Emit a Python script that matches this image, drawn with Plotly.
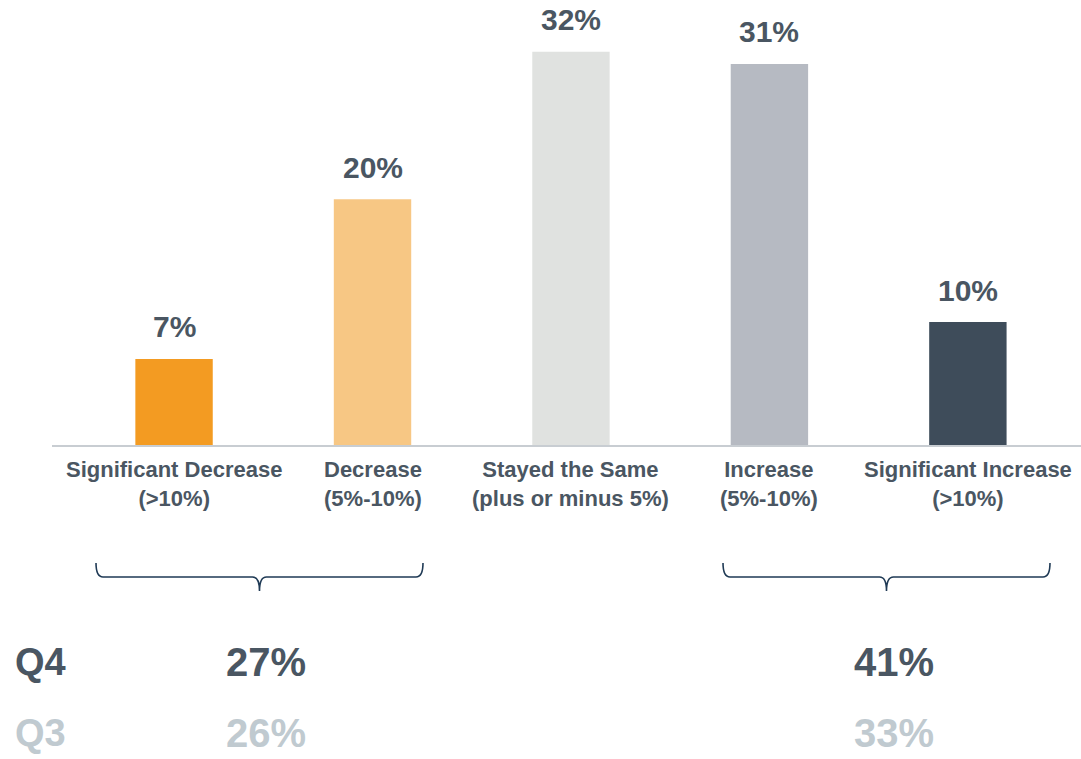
import plotly.graph_objects as go

# Survey responses: change in volume, share of respondents (%)
categories = [
    "Significant Decrease<br>(>10%)",
    "Decrease<br>(5%-10%)",
    "Stayed the Same<br>(plus or minus 5%)",
    "Increase<br>(5%-10%)",
    "Significant Increase<br>(>10%)",
]
values = [7, 20, 32, 31, 10]
bar_colors = ["#F39B22", "#F7C784", "#E0E2E0", "#B6BAC2", "#3E4C5A"]

# Combined decrease / increase totals by quarter
quarters = ["Q4", "Q3"]
decrease_totals = [27, 26]
increase_totals = [41, 33]
quarter_colors = ["#4A5662", "#C0CAD0"]

W, H = 1081, 759
TEXT = "#4A5662"
FONT = "Liberation Sans, Arial, sans-serif"

xs = list(range(len(values)))

fig = go.Figure(
    go.Bar(
        x=xs,
        y=values,
        width=0.39,
        marker=dict(color=bar_colors, line=dict(width=0)),
        hoverinfo="skip",
    )
)


def px(x):
    return x / W


def py(y):
    return (H - y) / H


annotations = []
# value labels above the bars
for x, v in zip(xs, values):
    annotations.append(dict(
        x=x, y=v, xref="x", yref="y", text=f"{v}%", showarrow=False,
        yanchor="middle", yshift=32,
        font=dict(family=FONT, size=30, color=TEXT, weight="bold"),
    ))
# category labels under the axis
for x, c in zip(xs, categories):
    annotations.append(dict(
        x=x, y=py(484), xref="x", yref="paper", text=c, showarrow=False,
        yanchor="middle", align="center",
        font=dict(family=FONT, size=22, color=TEXT, weight="bold"),
    ))
# quarter totals rows
row_y = [662, 733]
for q, d, inc, col, ry in zip(quarters, decrease_totals, increase_totals, quarter_colors, row_y):
    for xx, txt, sz in [(13, q, 38), (224, f"{d}%", 40), (852, f"{inc}%", 40)]:
        annotations.append(dict(
            x=px(xx), y=py(ry), xref="paper", yref="paper", text=txt,
            showarrow=False, xanchor="left", yanchor="middle",
            font=dict(family=FONT, size=sz, color=col, weight="bold"),
        ))


def brace(x0, x1, top, mid, tip):
    c = (x0 + x1) / 2
    pts = [
        ("M", x0, top), ("Q", x0, mid), ("", x0 + 7, mid), ("L", c - 7, mid),
        ("Q", c, mid), ("", c, tip), ("Q", c, mid), ("", c + 7, mid),
        ("L", x1 - 7, mid), ("Q", x1, mid), ("", x1, top),
    ]
    return " ".join(f"{cmd} {px(a):.5f},{py(b):.5f}".strip() for cmd, a, b in pts)


shapes = [
    dict(type="path", xref="paper", yref="paper", path=brace(96, 423, 563, 577, 591),
         line=dict(color="#1F3A55", width=1.6)),
    dict(type="path", xref="paper", yref="paper", path=brace(723, 1050, 563, 577, 591),
         line=dict(color="#1F3A55", width=1.6)),
]

fig.update_layout(
    width=W, height=H,
    margin=dict(l=0, r=0, t=0, b=0),
    paper_bgcolor="white", plot_bgcolor="white",
    showlegend=False,
    annotations=annotations,
    shapes=shapes,
    xaxis=dict(
        domain=[52 / W, 1.0], range=[-0.615, 4.57],
        showticklabels=False, showgrid=False, zeroline=False, ticks="",
        showline=True, linecolor="#C8CDD2", linewidth=2,
    ),
    yaxis=dict(
        domain=[(H - 445) / H, 1.0], range=[0, 36.2],
        showticklabels=False, showgrid=False, zeroline=False, showline=False,
    ),
)

fig.write_html("out.html")
